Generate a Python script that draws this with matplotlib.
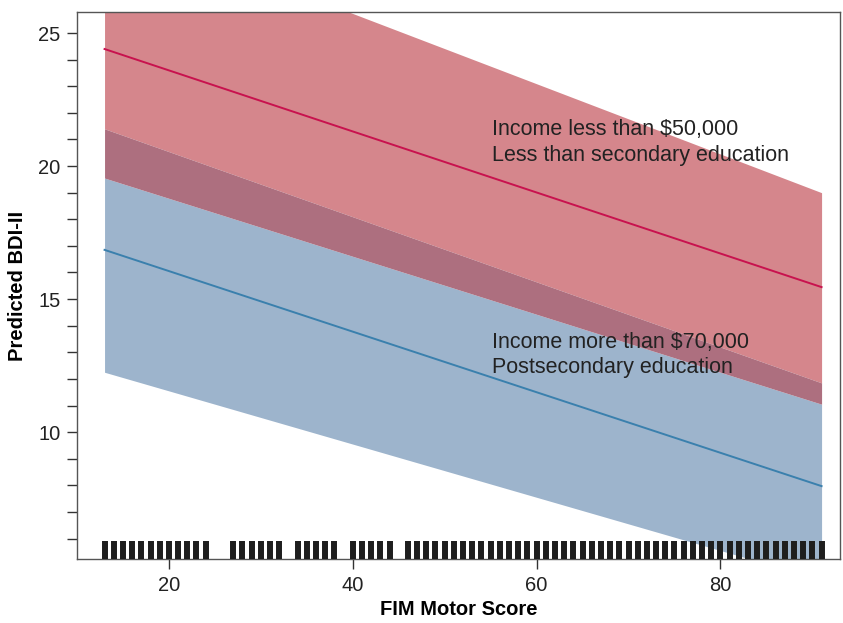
import numpy as np
import matplotlib
matplotlib.use('Agg')
import matplotlib.pyplot as plt
from matplotlib.ticker import MultipleLocator

plt.rcParams['font.family'] = ['Liberation Sans', 'DejaVu Sans']

# predicted lines and confidence bands at the ends of the FIM range
fim = [13, 91]
low_fit = [24.4, 15.45]
low_upper = [29.3, 19.0]
low_lower = [21.4, 11.85]
high_fit = [16.85, 7.97]
high_upper = [19.55, 11.05]
high_lower = [12.25, 4.45]

# observed FIM motor scores (rug)
rug = (list(range(13, 25)) + list(range(27, 33)) + list(range(34, 39))
       + list(range(40, 45)) + list(range(46, 92)))

label_low = 'Income less than $50,000\nLess than secondary education'
label_high = 'Income more than $70,000\nPostsecondary education'

fig = plt.figure(figsize=(8.43, 6.23), dpi=100)
ax = fig.add_axes([0.0913, 0.1027, 0.9051, 0.878])

x = np.array(fim, dtype=float)
lu, ll = np.array(low_upper), np.array(low_lower)
hu, hl = np.array(high_upper), np.array(high_lower)

ax.fill_between(x, ll, lu, color='#d5868c', lw=0, zorder=1)
ax.fill_between(x, hl, hu, color='#9db4cc', lw=0, zorder=1)
ax.fill_between(x, np.maximum(ll, hl), np.minimum(lu, hu), color='#ad6f7f', lw=0, zorder=2)

ax.plot(x, low_fit, color='#c8124e', lw=1.4, zorder=3)
ax.plot(x, high_fit, color='#3a80ad', lw=1.4, zorder=3)

ax.vlines(rug, 0, 0.033, transform=ax.get_xaxis_transform(), color='#1e1e1e',
          lw=4.3, zorder=4)

ax.text(55.2, 20.9, label_low, fontsize=15.5, color='#222222', linespacing=1.3,
        va='center', ha='left', zorder=5)
ax.text(55.2, 12.9, label_high, fontsize=15.5, color='#222222', linespacing=1.3,
        va='center', ha='left', zorder=5)

ax.set_xlim(10, 93)
ax.set_ylim(5.23, 25.79)
ax.set_xticks([20, 40, 60, 80])
ax.set_yticks([10, 15, 20, 25])
ax.yaxis.set_minor_locator(MultipleLocator(1))

for s in ax.spines.values():
    s.set_color('#555555')
    s.set_linewidth(1.0)

ax.tick_params(axis='both', which='both', direction='out', length=7, width=1.0,
               color='#333333', labelsize=14.5, labelcolor='#222222')
ax.tick_params(axis='x', pad=5)
ax.tick_params(axis='y', pad=5)

ax.set_xlabel('FIM Motor Score', fontsize=14.5, fontweight='bold', labelpad=4)
ax.set_ylabel('Predicted BDI-II', fontsize=14.5, fontweight='bold', labelpad=8)

plt.savefig('out.png', dpi=100)
